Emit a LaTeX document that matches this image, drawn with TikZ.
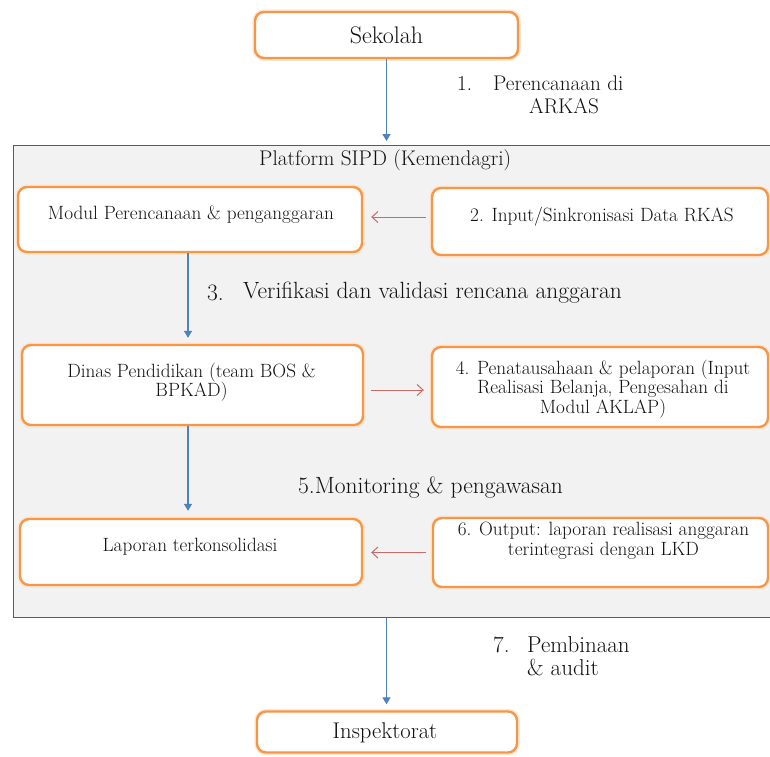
\documentclass[tikz,border=0pt]{standalone}
\usepackage{fontspec}
\usetikzlibrary{arrows.meta}
\definecolor{boxorange}{HTML}{F79646}
\definecolor{arrowblue}{HTML}{4F81BD}
\definecolor{arrowred}{HTML}{C0504D}
\definecolor{panelgray}{HTML}{F2F2F2}
\definecolor{panelline}{HTML}{5A5A5A}
\definecolor{inktext}{HTML}{111111}
\begin{document}
\begin{tikzpicture}[x=1pt,y=-1pt,
  box/.style={draw=boxorange, line width=2.4pt, fill=white, rounded corners=9pt, inner sep=0pt,
    preaction={draw=boxorange!22, line width=5.5pt}},
  platform/.style={draw=panelline, line width=1.4pt, fill=panelgray, inner sep=0pt},
  boxtext/.style={font=\fontsize{19.2}{19.6}\selectfont, align=center, inner sep=0pt, text=inktext},
  steptext/.style={font=\fontsize{21.2}{23}\selectfont, inner sep=0pt, text=inktext},
  bluearrow/.style={draw=arrowblue, line width=1.3pt, -{Triangle[width=8pt,length=7pt]}},
  redarrow/.style={draw=arrowred!85!white, line width=1pt, -{Straight Barb[length=6pt,width=11pt]}}
]
\useasboundingbox (0,0) rectangle (770,756);
\clip (0,0) rectangle (770,756);
\fill[white] (0,0) rectangle (770,756);

% panel
\node[platform, minimum width=762pt, minimum height=472pt, anchor=north west] (platform) at (13,145) {};
\node[steptext, anchor=west] (platformtitle) at (259,160) {Platform SIPD (Kemendagri)};

% boxes
\node[box, minimum width=263pt, minimum height=46pt] (sekolah) at (386.5,35) {};
\node[box, minimum width=344pt, minimum height=65pt] (modul) at (190,219.5) {};
\node[box, minimum width=336pt, minimum height=67pt] (input) at (600,221.5) {};
\node[box, minimum width=341pt, minimum height=80pt] (dinas) at (192.5,385) {};
\node[box, minimum width=336pt, minimum height=80pt] (penata) at (600,387) {};
\node[box, minimum width=342pt, minimum height=66pt] (laporan) at (191,552) {};
\node[box, minimum width=335pt, minimum height=69pt] (output) at (600.5,552.5) {};
\node[box, minimum width=260pt, minimum height=41pt] (inspektorat) at (387,732) {};

% box texts
\node[steptext, font=\fontsize{24}{24}\selectfont] (sekolah-t) at (386.5,35) {Sekolah};
\node[boxtext] (modul-t) at (191,215) {Modul Perencanaan \& penganggaran};
\node[boxtext] (input-t) at (602,217) {2. Input/Sinkronisasi Data RKAS};
\node[boxtext] (dinas-t) at (191.5,382) {Dinas Pendidikan (team BOS \&\\BPKAD)};
\node[boxtext] (penata-t) at (603,389) {4. Penatausahaan \& pelaporan (Input\\Realisasi Belanja, Pengesahan di\\Modul AKLAP)};
\node[boxtext] (laporan-t) at (190,547) {Laporan terkonsolidasi};
\node[boxtext] (output-t) at (603.5,541) {6. Output: laporan realisasi anggaran\\terintegrasi dengan LKD};
\node[steptext, font=\fontsize{22.7}{23}\selectfont] (inspektorat-t) at (385,733) {Inspektorat};

% step labels
\node[steptext, anchor=west] (s1num) at (457,83) {1.};
\node[steptext, anchor=west] (s1a) at (493,83) {Perencanaan di};
\node[steptext] (s1b) at (564,106) {ARKAS};
\node[steptext, anchor=west, font=\fontsize{23.5}{23}\selectfont] (s3num) at (207,293) {3.};
\node[steptext, anchor=west, font=\fontsize{23.5}{23}\selectfont] (s3) at (243,293) {Verifikasi dan validasi rencana anggaran};
\node[steptext, anchor=west, font=\fontsize{23.5}{23}\selectfont] (s5) at (298,488) {5.Monitoring \& pengawasan};
\node[steptext, anchor=west, font=\fontsize{23}{23}\selectfont] (s7num) at (493,645) {7.};
\node[steptext, anchor=west, font=\fontsize{23}{23}\selectfont] (s7a) at (527,645) {Pembinaan};
\node[steptext, anchor=west, font=\fontsize{23}{23}\selectfont] (s7b) at (527,668) {\& audit};

% blue arrows
\draw[bluearrow, shorten >=4pt] (sekolah.south) -- (sekolah.south |- platform.north);
\draw[bluearrow, shorten >=6pt] ([xshift=-2pt]modul.south) -- ([xshift=-2pt]modul.south |- dinas.north);
\draw[bluearrow, shorten >=7pt] ([xshift=-4.5pt]dinas.south) -- ([xshift=-4.5pt]dinas.south |- laporan.north);
\draw[bluearrow, shorten >=6pt] (sekolah.south |- platform.south) -- (sekolah.south |- inspektorat.north);

% red arrows
\draw[redarrow, shorten <=5pt, shorten >=8pt] (input.west |- input-t) -- (modul.east |- input-t);
\draw[redarrow, shorten <=7pt, shorten >=7pt] ([yshift=-5pt]dinas.east) -- ([yshift=-5pt]dinas.east -| penata.west);
\draw[redarrow, shorten <=6pt, shorten >=8pt] (output.west) -- (output.west -| laporan.east);
\end{tikzpicture}
\end{document}
